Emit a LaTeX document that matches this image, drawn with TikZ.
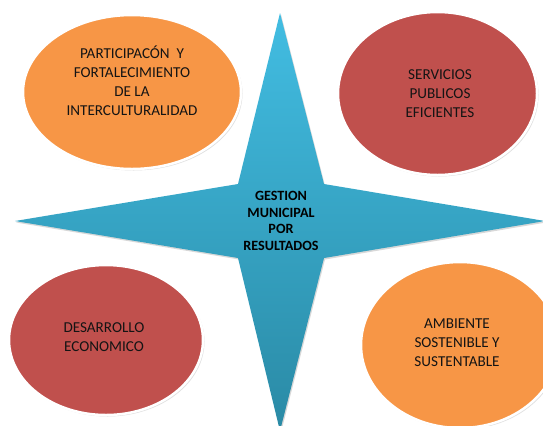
\documentclass[tikz,border=0pt]{standalone}
\usepackage{fontspec}
\setmainfont{Carlito}
\usetikzlibrary{shapes.geometric,shadows}
\definecolor{bloborange}{HTML}{F79646}
\definecolor{blobred}{HTML}{C0504D}
\definecolor{startop}{HTML}{42BDE2}
\definecolor{starbottom}{HTML}{2A8AA5}

\begin{document}
\begin{tikzpicture}[x=1bp, y=-1bp,
		blob/.style={ellipse, draw=white, line width=2.5bp, inner sep=0pt,
			drop shadow={shadow xshift=1.5bp, shadow yshift=-1.5bp, opacity=.25}},
		blobtext/.style={align=center, text=black!92, font=\fontsize{15.2}{19}\selectfont},
		startext/.style={align=center, text=black, font=\bfseries\fontsize{14.2}{16.5}\selectfont}]
				\fill[white] (0,0) rectangle (543,425);
				\useasboundingbox (0,0) rectangle (543,425);
				% the four goals
				\node[blob, fill=bloborange, minimum width=218bp, minimum height=154bp] (partic) at (132,92) {};
				\node[blob, fill=blobred, minimum width=199bp, minimum height=163bp] (servic) at (437.5,93.5) {};
				\node[blob, fill=blobred, minimum width=194bp, minimum height=150bp] (desarr) at (106,340) {};
				\node[blob, fill=bloborange, minimum width=198bp, minimum height=166bp] (ambien) at (460,345) {};
				\node[blobtext] (partictext) at (132,81) {PARTICIPAC\'ON\ \ Y\\FORTALECIMIENTO\\DE LA\\INTERCULTURALIDAD};
				\node[blobtext] (servictext) at (440,93.5) {SERVICIOS\\PUBLICOS\\EFICIENTES};
				\node[blobtext] (desarrtext) at (104,337) {DESARROLLO\\ECONOMICO};
				\node[blobtext] (ambientext) at (457,343) {AMBIENTE\\SOSTENIBLE Y\\SUSTENTABLE};
				% the star
				\coordinate (n) at (280,13);
				\coordinate (ne) at (324,184);
				\coordinate (e) at (545,221);
				\coordinate (se) at (324,258);
				\coordinate (s) at (280,431);
				\coordinate (sw) at (238,258);
				\coordinate (w) at (15,221);
				\coordinate (nw) at (238,184);
				\shade[top color=startop, bottom color=starbottom,
					drop shadow={shadow xshift=1bp, shadow yshift=-1.5bp, opacity=.3}]
					(n) -- (ne) -- (e) -- (se) -- (s) -- (sw) -- (w) -- (nw) -- cycle;
				\node[startext] (gestion) at (281,221) {GESTION\\MUNICIPAL\\POR\\RESULTADOS};
			\end{tikzpicture}
\end{document}
